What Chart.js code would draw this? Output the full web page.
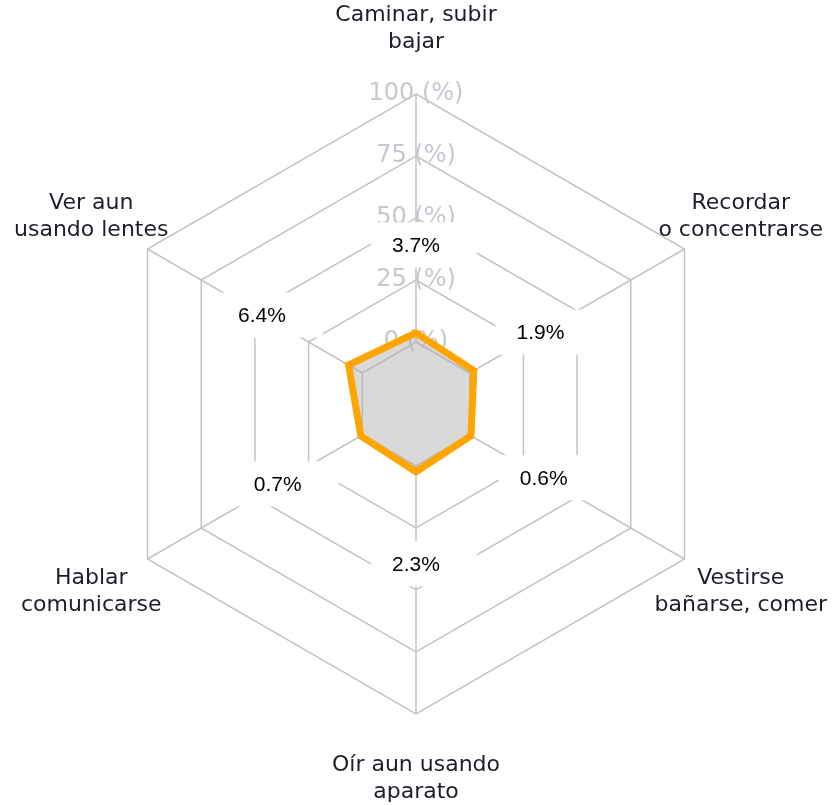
<!DOCTYPE html>
<html>
<head>
<meta charset="utf-8">
<script src="https://cdn.jsdelivr.net/npm/chart.js@4.4.0/dist/chart.umd.min.js"></script>
<style>
  html, body { margin: 0; padding: 0; background: #fff; }
  #wrap { width: 833px; height: 805px; }
</style>
</head>
<body>
<div id="wrap"><canvas id="c" width="833" height="805"></canvas></div>
<script>
const categories = [
  ["Caminar, subir", "bajar"],
  ["Recordar", "o concentrarse"],
  ["Vestirse", "bañarse, comer"],
  ["Oír aun usando", "aparato"],
  ["Hablar", "comunicarse"],
  ["Ver aun", "usando lentes"]
];
const values = [3.7, 1.9, 0.6, 2.3, 0.7, 6.4];
const tickValues = [0, 25, 50, 75, 100];

// how far each value label sits out from its point (px)
const labelGap = [88, 77, 84, 92, 96, 100];

// angle lines only from the 0 ring outward
const spokes = {
  id: "spokes",
  beforeDatasetsDraw(chart) {
    const s = chart.scales.r, ctx = chart.ctx;
    const r0 = s.getDistanceFromCenterForValue(0);
    const r1 = s.getDistanceFromCenterForValue(100);
    ctx.save();
    ctx.strokeStyle = "#c4c4c4";
    ctx.lineWidth = 1.5;
    categories.forEach((c, i) => {
      const a = s.getPointPosition(i, r0), b = s.getPointPosition(i, r1);
      ctx.beginPath();
      ctx.moveTo(a.x, a.y);
      ctx.lineTo(b.x, b.y);
      ctx.stroke();
    });
    ctx.restore();
  }
};

const labelsPlugin = {
  id: "labelsPlugin",
  afterDatasetsDraw(chart) {
    const s = chart.scales.r, ctx = chart.ctx;
    ctx.save();
    ctx.textAlign = "center";
    ctx.textBaseline = "middle";
    // value labels in white boxes
    ctx.font = "21px 'Liberation Sans', Arial, sans-serif";
    values.forEach((v, i) => {
      const p = s.getPointPosition(i, s.getDistanceFromCenterForValue(v) + labelGap[i]);
      const txt = v.toFixed(1) + "%";
      const w = ctx.measureText(txt).width + 58, h = 45;
      ctx.fillStyle = "#fff";
      ctx.fillRect(p.x - w / 2 + 8, p.y - h / 2, w, h);
      ctx.fillStyle = "#000";
      ctx.fillText(txt, p.x, p.y + 1);
    });
    // category labels
    ctx.font = "22px 'DejaVu Sans', sans-serif";
    ctx.fillStyle = "#1e1e2a";
    const lh = 27;
    chart.data.labels.forEach((lines, i) => {
      const p = s.getPointPosition(i, s.drawingArea + 65);
      const y0 = p.y - (lines.length - 1) * lh / 2;
      lines.forEach((ln, k) => ctx.fillText(ln, p.x, y0 + k * lh));
    });
    ctx.restore();
  }
};

new Chart(document.getElementById("c"), {
  type: "radar",
  data: {
    labels: categories,
    datasets: [{
      data: values,
      borderColor: "#ffa500",
      backgroundColor: "rgba(170, 170, 170, 0.45)",
      borderWidth: 7,
      pointRadius: 0,
      fill: "start"
    }]
  },
  options: {
    responsive: false,
    animation: false,
    layout: { padding: { top: 80, bottom: 77, left: 0, right: 0 } },
    plugins: {
      legend: { display: false },
      tooltip: { enabled: false }
    },
    scales: {
      r: {
        min: -25,
        max: 100,
        ticks: {
          stepSize: 25,
          showLabelBackdrop: false,
          color: "#c6c8d0",
          font: { family: "'DejaVu Sans', sans-serif", size: 24 },
          callback: (v) => tickValues.includes(v) ? v + " (%)" : ""
        },
        grid: { color: "#c4c4c4", lineWidth: 1.5 },
        angleLines: { display: false },
        pointLabels: { display: false }
      }
    }
  },
  plugins: [spokes, labelsPlugin]
});
</script>
</body>
</html>
